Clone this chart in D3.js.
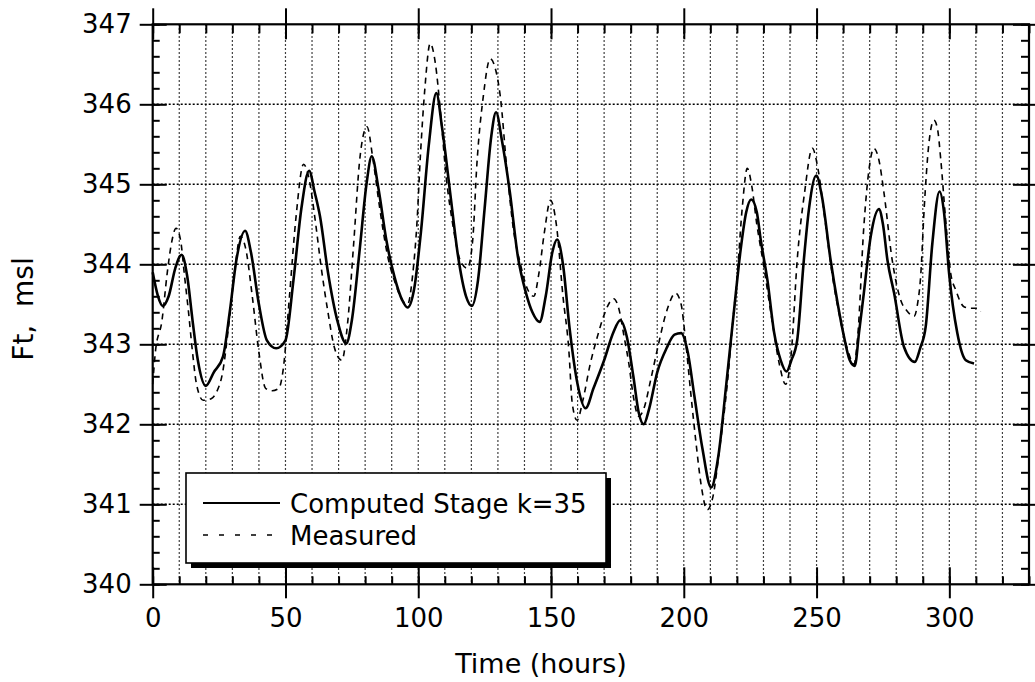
<!DOCTYPE html>
<html>
<head>
<meta charset="utf-8">
<script src="https://cdn.jsdelivr.net/npm/d3@7"></script>
<style>
  html, body { margin: 0; padding: 0; background: #fff; }
  svg { display: block; }
  text { font-family: "DejaVu Sans", Verdana, sans-serif; fill: #000; }
</style>
</head>
<body>
<svg id="chart" width="1035" height="682"></svg>
<script>
// ---- Data ----
const computedHours = [0,2,3.8,6,8.5,10.9,13,15,17,20,23,26.5,29,31.5,34.8,37,40,43,46.5,50,53,56,58.9,61,63,66,69.5,72.9,75,78,80.5,82.5,85,88,91,94,96,98.5,101,104,106.8,109,112,115,118,120.2,122.5,125,127.5,129.3,131.5,134.5,137.5,140.5,143,145.7,148,150.5,152.3,154.5,157,160,163,166,170,173.5,176.1,178.5,181,183,184.9,187,190,193.5,196.5,199,201.5,204,207,210.3,213,216,219,221.4,223.5,225.4,227.5,229,231.5,234,236.5,238.7,240.5,242.7,245.2,247.1,249.9,252,255.3,258,260.3,262.5,264.4,266,267.8,270.4,273.5,275,276.7,279.2,282.9,287,289,291.1,293.6,296.3,298,299.9,303,306.2,309.3];
const computedStage = [343.9,343.6,343.48,343.6,343.95,344.12,343.85,343.3,342.8,342.48,342.65,342.85,343.4,344.05,344.42,344.15,343.5,343.05,342.95,343.05,343.8,344.7,345.17,344.9,344.6,343.9,343.3,343.01,343.3,344.2,345.0,345.35,344.95,344.3,343.85,343.55,343.46,343.7,344.4,345.5,346.14,345.7,344.9,344.1,343.6,343.48,343.8,344.7,345.6,345.9,345.55,344.9,344.1,343.65,343.4,343.28,343.6,344.15,344.31,344.0,343.2,342.5,342.2,342.45,342.8,343.15,343.3,343.1,342.6,342.15,342.0,342.2,342.65,342.95,343.12,343.14,342.9,342.35,341.7,341.21,341.6,342.5,343.45,344.18,344.65,344.81,344.65,344.3,343.8,343.15,342.8,342.66,342.8,343.05,344.05,344.68,345.11,344.85,344.05,343.5,343.1,342.8,342.73,343.15,343.64,344.35,344.69,344.5,344.05,343.64,342.97,342.78,342.95,343.22,344.26,344.91,344.65,343.89,343.14,342.8,342.76];

const measuredHours = [0,1,3.5,5.5,7,8.8,10.5,12,13.5,15,16.5,19,22,24,26.4,28.5,31,33,35,37.5,40,42.5,45,47.5,49.2,51.5,54,56.8,59,61,63.5,66,68.5,71.2,73.5,75.6,78.1,80.7,83,85.5,88.5,91.5,94,96,98,99.5,100.8,102.5,104.5,106.5,108.3,110.5,113,115.8,118.5,120.5,122.1,124.5,127.1,129,130.9,133.4,136,138.5,141,143.5,145.5,147.5,149.8,152,154.5,156.7,158,159.8,162,164.8,167.5,169.8,172,173.6,175.5,177.5,179.3,181,183,185,187.5,190,193.7,196.9,199,200.5,202.5,204.5,206.5,208.8,211,213.5,216.4,218.5,220.1,222,223.9,225.5,227.5,230,233,236,238.3,240.5,242.7,245.5,248.4,250.5,253,256,259,262,264.1,265.5,267.8,269.8,271.6,273.5,275.4,278.5,281.7,284,286.7,288,289.2,290.5,292.3,294.2,295.5,296.8,298.5,300.5,302.4,305.5,308,310.6,311.8];
const measuredStage = [342.5,342.9,343.3,343.9,344.25,344.45,344.3,343.85,343.4,342.9,342.5,342.3,342.32,342.4,342.66,343.2,343.95,344.35,344.2,343.6,342.9,342.45,342.42,342.45,342.7,343.6,344.6,345.25,345.05,344.6,343.95,343.4,342.95,342.8,343.3,344.22,345.35,345.72,345.3,344.7,344.1,343.75,343.55,343.5,343.9,344.51,345.35,346.2,346.76,346.5,345.93,345.1,344.5,344.05,343.95,344.3,345.26,346.1,346.57,346.45,346.1,345.18,344.4,344.0,343.7,343.6,343.9,344.4,344.8,344.5,343.6,342.93,342.26,342.05,342.3,342.76,343.1,343.35,343.52,343.57,343.45,343.1,342.76,342.35,342.1,342.2,342.55,342.93,343.43,343.64,343.5,343.1,342.43,341.8,341.25,340.93,341.1,341.7,342.51,343.3,343.85,344.7,345.2,345.0,344.5,344.0,343.35,342.75,342.5,342.9,344.05,344.9,345.45,345.2,344.6,343.85,343.3,342.9,342.75,343.1,344.47,345.2,345.45,345.3,344.89,344.05,343.55,343.42,343.35,343.5,343.85,344.68,345.51,345.8,345.7,345.3,344.6,343.89,343.68,343.47,343.45,343.45,343.41];

const xMajorTicks = [0,50,100,150,200,250,300];
const yMajorTicks = [340,341,342,343,344,345,346,347];
const seriesNames = ["Computed Stage k=35", "Measured"];
const xTitle = "Time (hours)";
const yTitle = "Ft,  msl";

// ---- Layout ----
const svg = d3.select("#chart");
const L = 152.7, R = 1029, T = 24.3, B = 584.3;
const x = d3.scaleLinear().domain([0, 330]).range([L, R]);
const y = d3.scaleLinear().domain([340, 347]).range([B, T]);

const xMinor = d3.range(0, 331, 10);
const yMinor = d3.range(0, 36).map(i => 340 + i * 0.2);

// gridlines
const grid = svg.append("g");
grid.selectAll("line.v").data(xMinor.filter(d => d > 0 && d < 330)).join("line")
  .attr("x1", d => x(d)).attr("x2", d => x(d)).attr("y1", T).attr("y2", B)
  .attr("stroke", "#000").attr("stroke-width", 1.2).attr("stroke-dasharray", "1.5,2.5");
grid.selectAll("line.h").data(yMajorTicks.filter(d => d > 340 && d < 347)).join("line")
  .attr("x1", L).attr("x2", R).attr("y1", d => y(d)).attr("y2", d => y(d))
  .attr("stroke", "#000").attr("stroke-width", 1.6).attr("stroke-dasharray", "2,2");

function styleAxis(g) {
  g.select(".domain").remove();
  g.selectAll(".tick line").attr("stroke", "#000").attr("stroke-width", 2);
  g.selectAll(".tick text").style("font-size", "26px").attr("fill", "#000");
}
svg.append("g").attr("transform", `translate(${L},0)`)
  .call(d3.axisLeft(y).tickValues(yMajorTicks).tickSize(13).tickPadding(8).tickFormat(d3.format("d")))
  .call(styleAxis);
svg.append("g").attr("transform", `translate(${L},0)`)
  .call(d3.axisRight(y).tickValues(yMajorTicks).tickSize(14).tickFormat("")).call(styleAxis);
svg.append("g").attr("transform", `translate(${L},0)`)
  .call(d3.axisRight(y).tickValues(yMinor).tickSize(7).tickFormat("")).call(styleAxis);
svg.append("g").attr("transform", `translate(${R},0)`)
  .call(d3.axisLeft(y).tickValues(yMajorTicks).tickSize(16).tickFormat("")).call(styleAxis);
svg.append("g").attr("transform", `translate(${R},0)`)
  .call(d3.axisRight(y).tickValues(yMajorTicks).tickSize(8).tickFormat("")).call(styleAxis);
svg.append("g").attr("transform", `translate(${R},0)`)
  .call(d3.axisLeft(y).tickValues(yMinor).tickSize(8).tickFormat("")).call(styleAxis);
svg.append("g").attr("transform", `translate(0,${B})`)
  .call(d3.axisBottom(x).tickValues(xMajorTicks).tickSize(14).tickPadding(10).tickFormat(d3.format("d")))
  .call(styleAxis);
svg.append("g").attr("transform", `translate(0,${B})`)
  .call(d3.axisTop(x).tickValues(xMajorTicks).tickSize(17).tickFormat("")).call(styleAxis);
svg.append("g").attr("transform", `translate(0,${B})`)
  .call(d3.axisTop(x).tickValues(xMinor).tickSize(8).tickFormat("")).call(styleAxis);
svg.append("g").attr("transform", `translate(0,${T})`)
  .call(d3.axisTop(x).tickValues(xMajorTicks).tickSize(16).tickFormat("")).call(styleAxis);
svg.append("g").attr("transform", `translate(0,${T})`)
  .call(d3.axisBottom(x).tickValues(xMajorTicks).tickSize(15).tickFormat("")).call(styleAxis);
svg.append("g").attr("transform", `translate(0,${T})`)
  .call(d3.axisBottom(x).tickValues(xMinor).tickSize(9).tickFormat("")).call(styleAxis);

svg.append("rect").attr("x", L).attr("y", T).attr("width", R - L).attr("height", B - T)
  .attr("fill", "none").attr("stroke", "#000").attr("stroke-width", 2.2);

const line = d3.line().x(d => x(d[0])).y(d => y(d[1])).curve(d3.curveMonotoneX);
const measured = measuredHours.map((h, i) => [h, measuredStage[i]]);
const computed = computedHours.map((h, i) => [h, computedStage[i]]);
svg.append("path").datum(measured).attr("d", line)
  .attr("fill", "none").attr("stroke", "#000").attr("stroke-width", 1.6).attr("stroke-dasharray", "6,5");
svg.append("path").datum(computed).attr("d", line)
  .attr("fill", "none").attr("stroke", "#000").attr("stroke-width", 2.6);

const lg = svg.append("g");
lg.append("rect").attr("x", 191).attr("y", 478).attr("width", 420).attr("height", 90).attr("fill", "#000");
lg.append("rect").attr("x", 186).attr("y", 473).attr("width", 420).attr("height", 90)
  .attr("fill", "#fff").attr("stroke", "#000").attr("stroke-width", 1.6);
lg.append("line").attr("x1", 203).attr("x2", 280).attr("y1", 503).attr("y2", 503)
  .attr("stroke", "#000").attr("stroke-width", 2);
lg.append("line").attr("x1", 203).attr("x2", 280).attr("y1", 535).attr("y2", 535)
  .attr("stroke", "#000").attr("stroke-width", 1.4).attr("stroke-dasharray", "5,11");
lg.append("text").attr("x", 290).attr("y", 513).style("font-size", "26px").text(seriesNames[0]);
lg.append("text").attr("x", 290).attr("y", 545).style("font-size", "26px").text(seriesNames[1]);

svg.append("text").attr("x", 541).attr("y", 673).attr("text-anchor", "middle")
  .style("font-size", "27px").text(xTitle);
svg.append("text").attr("transform", "translate(33,309) rotate(-90)").attr("text-anchor", "middle")
  .style("font-size", "28px").attr("xml:space", "preserve").text(yTitle);
</script>
</body>
</html>
